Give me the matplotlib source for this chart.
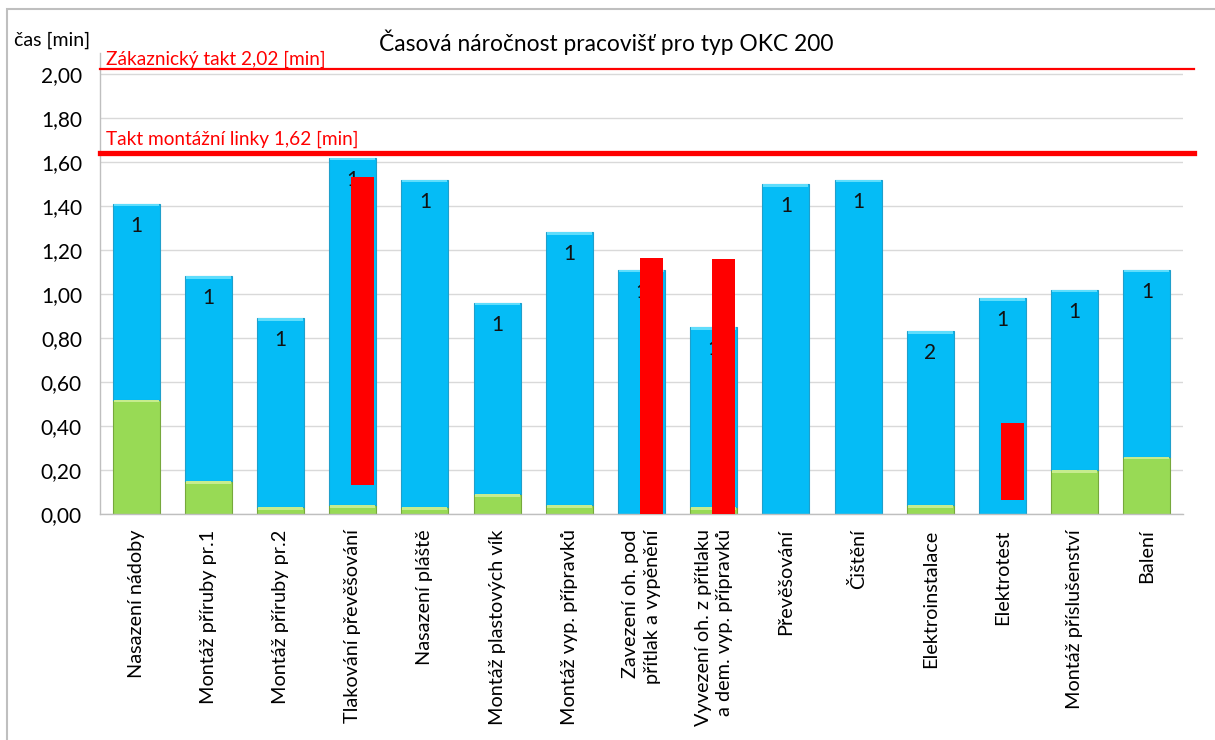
import numpy as np
import matplotlib
matplotlib.use('Agg')
import matplotlib.pyplot as plt

plt.rcParams['font.family'] = ['Lato', 'DejaVu Sans']

# data
categories = [
    "Nasazení nádoby", "Montáž příruby pr.1", "Montáž příruby pr.2",
    "Tlakování převěšování", "Nasazení pláště", "Montáž plastových vík",
    "Montáž vyp. přípravků", "Zavezení oh. pod\npřítlak a vypěnění",
    "Vyvezení oh. z přítlaku\na dem. vyp. přípravků", "Převěšování",
    "Čištění", "Elektroinstalace", "Elektrotest", "Montáž příslušenství",
    "Balení",
]
green_time = [0.52, 0.15, 0.03, 0.04, 0.03, 0.09, 0.04, 0.00, 0.03, 0.00,
              0.00, 0.04, 0.00, 0.20, 0.26]
total_time = [1.41, 1.08, 0.89, 1.62, 1.52, 0.96, 1.28, 1.11, 0.85, 1.50,
              1.52, 0.83, 0.98, 1.02, 1.11]
workers = ["1", "1", "1", "1", "1", "1", "1", "1", "1", "1",
           "1", "2", "1", "1", "1"]
red_bottom = [np.nan, np.nan, np.nan, 0.13, np.nan, np.nan, np.nan, 0.0, 0.0,
              np.nan, np.nan, np.nan, 0.064, np.nan, np.nan]
red_top = [np.nan, np.nan, np.nan, 1.53, np.nan, np.nan, np.nan, 1.165, 1.16,
           np.nan, np.nan, np.nan, 0.415, np.nan, np.nan]
customer_takt = 2.02
line_takt = 1.64
yticks = [0.0, 0.2, 0.4, 0.6, 0.8, 1.0, 1.2, 1.4, 1.6, 1.8, 2.0]

c_blue = '#05BCF6'
c_blue_top = '#5FDDFC'
c_blue_edge = '#1F9FCB'
c_green = '#98DA55'
c_green_top = '#C6EC8E'
c_green_edge = '#76A83C'
c_red = '#FF0000'

fig = plt.figure(figsize=(12.15, 7.4), dpi=100)
ax = fig.add_axes([0.0823, 0.3054, 0.8914, 0.623])

x = np.arange(len(categories))
green = np.array(green_time)
total = np.array(total_time)
blue = total - green
w = 0.65
cap = 0.012

# stacked bars
ax.bar(x, green, w, color=c_green, edgecolor=c_green_edge, linewidth=0.8, zorder=2)
ax.bar(x, blue, w, bottom=green, color=c_blue, edgecolor=c_blue_edge, linewidth=0.8, zorder=2)
# light bevel strip on top of each segment
gmask = green > 0.005
ax.bar(x[gmask], np.full(gmask.sum(), cap), w * 0.96, bottom=green[gmask] - cap,
       color=c_green_top, linewidth=0, zorder=3)
ax.bar(x, np.full(len(x), cap), w * 0.96, bottom=total - cap,
       color=c_blue_top, linewidth=0, zorder=3)

# worker counts
for xi, t, lab in zip(x, total, workers):
    ax.text(xi, t - 0.1, lab, ha='center', va='center', fontsize=15,
            color='#111111', zorder=4)

# red overlay bars
rb = np.array(red_bottom)
rt = np.array(red_top)
rmask = ~np.isnan(rb)
ax.bar(x[rmask] + 0.14, rt[rmask] - rb[rmask], 0.32, bottom=rb[rmask],
       color=c_red, linewidth=0, zorder=5)

# takt lines
ax.axhline(customer_takt, xmin=0, xmax=1.01, color=c_red, lw=1.6,
           clip_on=False, zorder=6)
ax.axhline(line_takt, xmin=0, xmax=1.01, color=c_red, lw=3.8,
           clip_on=False, zorder=6)
ax.text(0.006, customer_takt + 0.005, "Zákaznický takt 2,02 [min]",
        transform=ax.get_yaxis_transform(), color=c_red, fontsize=13.7,
        ha='left', va='bottom')
ax.text(0.006, line_takt + 0.025, "Takt montážní linky 1,62 [min]",
        transform=ax.get_yaxis_transform(), color=c_red, fontsize=13.7,
        ha='left', va='bottom')

ax.set_xlim(-0.5, len(categories) - 0.5)
ax.set_ylim(0, 2.095)
ax.set_yticks(yticks)
ax.set_yticklabels([f"{v:.2f}".replace('.', ',') for v in yticks], fontsize=15)
ax.set_xticks(x)
ax.set_xticklabels(categories, rotation=90, fontsize=14.3, multialignment='right',
                   linespacing=1.3)
ax.tick_params(axis='x', length=0, pad=11)
ax.tick_params(axis='y', length=0, pad=13)

ax.grid(axis='y', color='#D9D9D9', lw=1, zorder=0)
ax.set_axisbelow(True)
for s in ['top', 'right']:
    ax.spines[s].set_visible(False)
for s in ['left', 'bottom']:
    ax.spines[s].set_color('#BFBFBF')
    ax.spines[s].set_linewidth(1)

fig.text(0.499, 0.943, "Časová náročnost pracovišť pro typ OKC 200",
         ha='center', va='center', fontsize=16.4)
fig.text(0.043, 0.946, "čas [min]", ha='center', va='center', fontsize=14)

# chart area border
border = plt.Rectangle((0.006, -0.01), 1.0, 0.998, transform=fig.transFigure,
                       fill=False, edgecolor='#BFBFBF', lw=1.5)
fig.patches.append(border)

fig.savefig('out.png', dpi=100, facecolor='white')
